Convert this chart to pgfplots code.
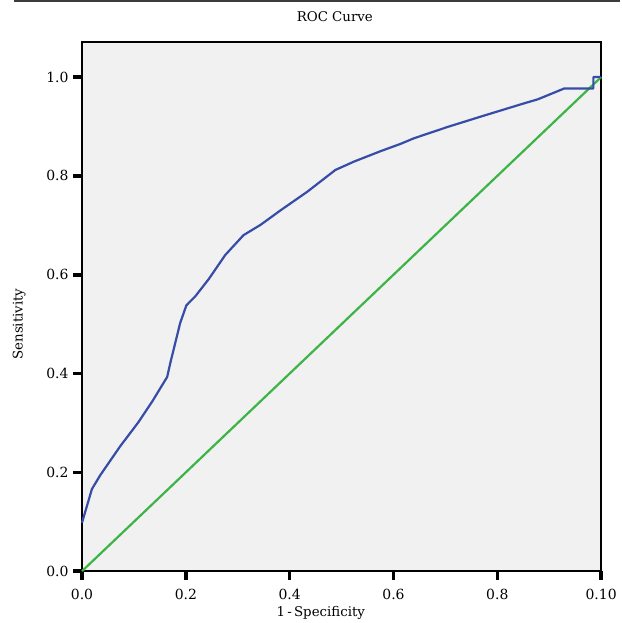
\documentclass[border=0pt]{standalone}
\usepackage{pgfplots}
\pgfplotsset{compat=1.18}
\usepackage{fontspec}
\setmainfont{DejaVu Serif}
\definecolor{rocblue}{RGB}{55,76,166}
\definecolor{rocgreen}{RGB}{60,180,70}
\definecolor{plotbg}{RGB}{241,241,241}
\definecolor{rulegray}{RGB}{60,60,60}
\begin{document}
\begin{tikzpicture}
\begin{axis}[
  scale only axis, width=519bp, height=529bp,
  xmin=0, xmax=1, ymin=0, ymax=1.071,
  clip=false,
  axis background/.style={fill=plotbg},
  axis line style={line width=2bp,black},
  xtick={0,0.2,0.4,0.6,0.8,1},
  xticklabels={0.0,0.2,0.4,0.6,0.8,0.10},
  ytick={0,0.2,0.4,0.6,0.8,1},
  yticklabels={0.0,0.2,0.4,0.6,0.8,1.0},
  tick align=outside, xtick pos=bottom, ytick pos=left,
  major tick length=9bp,
  every tick/.style={line width=3.6bp,black},
  major tick style={line width=3.6bp,black},
  /pgf/number format/assume math mode=true,
  ticklabel style={font=\fontsize{14}{17}\selectfont},
  xticklabel style={yshift=-5bp},
  yticklabel style={xshift=-1bp},
  title={ROC Curve},
  title style={font=\fontsize{13.4}{16}\selectfont, at={(axis description cs:0.487,1.036)}, anchor=center},
  xlabel={1\,-\,Specificity},
  xlabel style={font=\fontsize{13.4}{16}\selectfont, at={(axis description cs:0.46,-0.079)}, anchor=center},
  ylabel={Sensitivity},
  ylabel style={font=\fontsize{13.4}{16}\selectfont, at={(axis description cs:-0.121,0.467)}, anchor=center},
]
\addplot[rocgreen, line width=2.2bp, line join=round] coordinates {
  (0,0) (0.25,0.25) (0.5,0.5) (0.75,0.75) (1,1)
};
\addplot[rocblue, line width=2.2bp, line join=round] coordinates {
  (0,0.098) (0.019,0.166) (0.035,0.194) (0.073,0.252) (0.109,0.302)
  (0.135,0.343) (0.164,0.393) (0.170,0.421) (0.189,0.502) (0.201,0.538)
  (0.218,0.556) (0.244,0.591) (0.276,0.640) (0.311,0.680) (0.344,0.701)
  (0.382,0.730) (0.434,0.768) (0.488,0.812) (0.524,0.829) (0.575,0.850)
  (0.614,0.865) (0.639,0.876) (0.704,0.899) (0.768,0.920) (0.852,0.947)
  (0.878,0.955) (0.929,0.977) (0.985,0.977) (0.985,1.0) (1.0,1.0)
};
\draw[rulegray, line width=2bp] (rel axis cs:-0.131,1.0766) -- (rel axis cs:1.0366,1.0766);
\path (rel axis cs:-0.158,-0.098) rectangle (rel axis cs:1.0366,1.0794);
\end{axis}
\end{tikzpicture}
\end{document}
